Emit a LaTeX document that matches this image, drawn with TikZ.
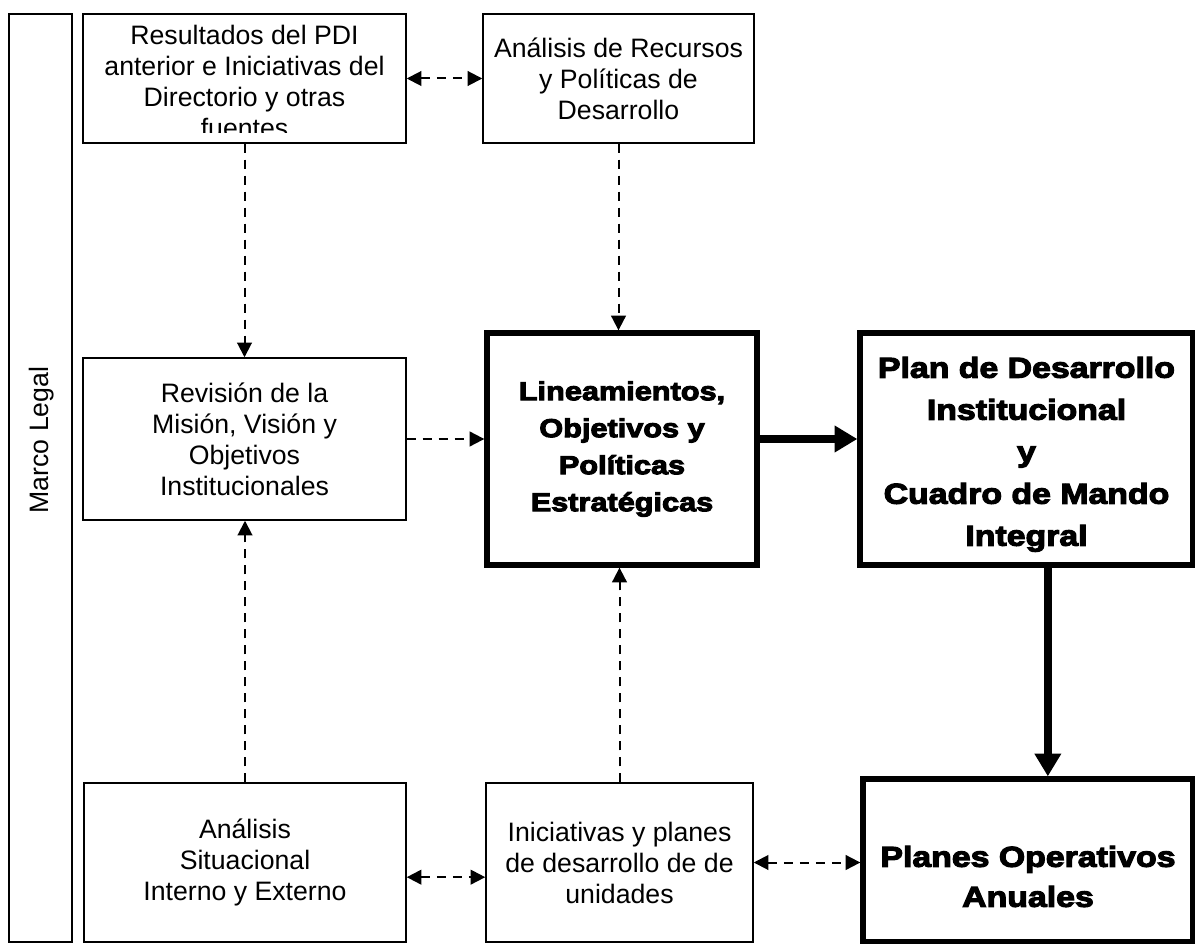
\documentclass[tikz,border=0pt]{standalone}
\usepackage{fontspec}
\setmainfont{Liberation Sans}
\newfontfamily\heavyfont[FakeBold=4,FakeStretch=1.18]{Liberation Sans Bold}
\usetikzlibrary{arrows.meta}
\tikzset{
  box/.style={draw, line width=1.1pt, align=center, inner sep=0pt, font=\fontsize{20}{23.25}\selectfont},
  keybox/.style={draw, line width=4pt, align=center, inner sep=0pt},
  keytext/.style={align=center, font=\heavyfont\fontsize{21.5}{31.5}\selectfont},
  dlink/.style={-{Triangle[length=11pt,width=11pt]}, line width=1.5pt, dash pattern=on 7pt off 5pt},
  dboth/.style={{Triangle[length=11pt,width=11pt]}-{Triangle[length=11pt,width=11pt]}, line width=1.5pt, dash pattern=on 7pt off 5pt},
  flow/.style={-{Triangle[length=17pt,width=19pt]}, line width=6pt}
}

\begin{document}
\begin{tikzpicture}[x=0.75pt,y=-0.75pt]
\useasboundingbox (0,0) rectangle (1195,944);
% left column
\node[box, minimum width=47.25pt, minimum height=696pt] (legal) at (40.5,478) {};
\node[rotate=90, font=\fontsize{20}{23.25}\selectfont] (legaltext) at (42,440) {Marco Legal};
\node[box, minimum width=242.25pt, minimum height=96.75pt, path picture={
  \clip ([yshift=7.5pt]path picture bounding box.south west) rectangle (path picture bounding box.north east);
  \node[draw=none, anchor=north, align=center, inner sep=0pt, font=\fontsize{20}{23.25}\selectfont] (restext)
    at ([yshift=-2pt]path picture bounding box.north) {Resultados del PDI\\anterior e Iniciativas del\\Directorio y otras\\fuentes};
}] (res) at (244.5,78.5) {};
\node[box, minimum width=242.25pt, minimum height=121.5pt] (rev) at (244.5,439) {Revisión de la\\Misión, Visión y\\Objetivos\\Institucionales};
\node[box, minimum width=241.5pt, minimum height=119.25pt] (sit) at (245,862.5) {Análisis\\Situacional\\Interno y Externo};
% middle column
\node[box, minimum width=203.25pt, minimum height=96.75pt] (rec) at (618.5,78.5) {Análisis de Recursos\\y Políticas de\\Desarrollo};
\node[keybox, font=\heavyfont\fontsize{19.5}{27.75}\selectfont, minimum width=202.5pt, minimum height=174pt] (lin) at (622,449) {Lineamientos,\\Objetivos y\\Políticas\\Estratégicas};
\node[box, minimum width=200.25pt, minimum height=119.25pt] (ini) at (619.5,862.5) {Iniciativas y planes\\de desarrollo de de\\unidades};
% right column
\node[keybox, minimum width=249.75pt, minimum height=174pt] (pdi) at (1026.5,449) {};
\node[keytext] (pditext) at ([yshift=-4pt]pdi.center) {Plan de Desarrollo\\Institucional\\y\\Cuadro de Mando\\Integral};
\node[keybox, minimum width=247.5pt, minimum height=122.25pt] (poa) at (1028,860.5) {};
\node[keytext, font=\heavyfont\fontsize{21.5}{30}\selectfont] (poatext) at ([yshift=-12pt]poa.center) {Planes Operativos\\Anuales};
% connectors
\draw[dboth] (res) -- (rec);
\draw[dlink] (res) -- (rev);
\draw[dlink] (rec.south) -- (rec.south |- lin.north);
\draw[dlink] (rev.east) -- (rev.east -| lin.west);
\draw[dlink] (sit.north) -- (sit.north |- rev.south);
\draw[dlink] (ini.north) -- (ini.north |- lin.south);
\draw[dboth] ([yshift=-11pt]sit.east) -- ([yshift=-11pt]sit.east -| ini.west);
\draw[dboth] (ini.east) -- (ini.east -| poa.west);
\draw[flow] (lin.east |- rev.east) -- (pdi.west |- rev.east);
\draw[flow] ([xshift=16pt]pdi.south) -- ([xshift=16pt]pdi.south |- poa.north);
\end{tikzpicture}
\end{document}
